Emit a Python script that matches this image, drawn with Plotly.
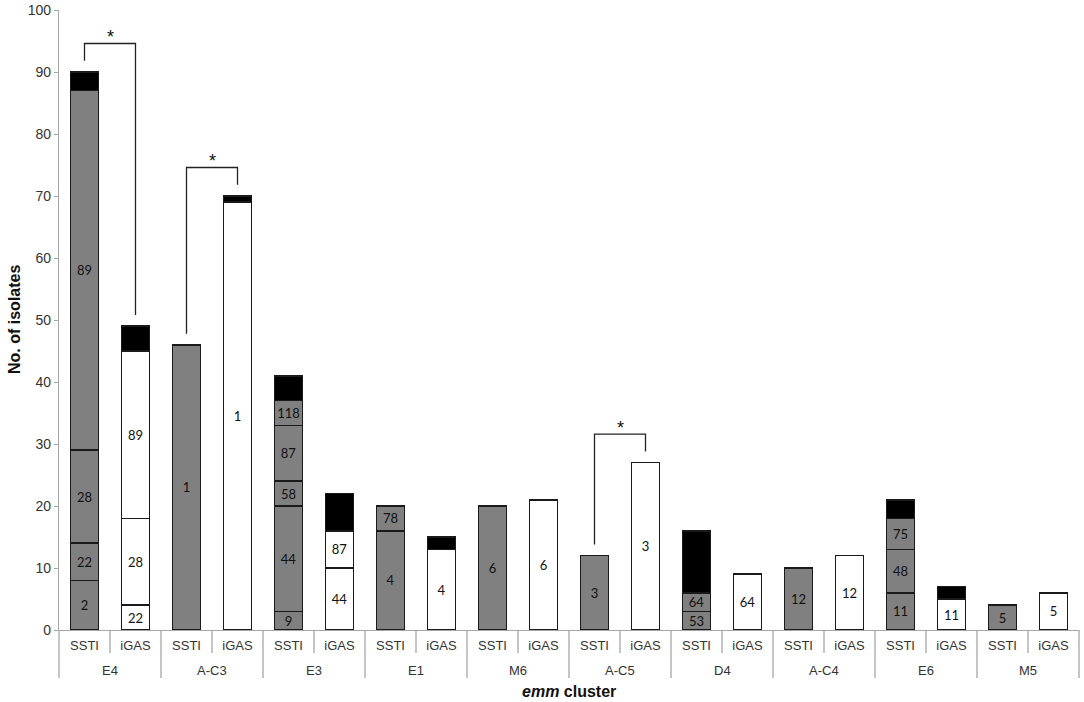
import plotly.graph_objects as go

clusters = ["E4", "A-C3", "E3", "E1", "M6", "A-C5", "D4", "A-C4", "E6", "M5"]
sources = ["SSTI", "iGAS"]

# stacked segments per bar (order: cluster x source), bottom to top
seg1 = [8, 4, 46, 69, 3, 10, 16, 13, 20, 21, 12, 27, 3, 9, 10, 12, 6, 5, 4, 6]
seg1_lbl = ["2", "22", "1", "1", "9", "44", "4", "4", "6", "6", "3", "3", "53", "64", "12", "12", "11", "11", "5", "5"]
seg2 = [6, 14, 0, 0, 17, 6, 4, 0, 0, 0, 0, 0, 3, 0, 0, 0, 7, 0, 0, 0]
seg2_lbl = ["22", "28", "", "", "44", "87", "78", "", "", "", "", "", "64", "", "", "", "48", "", "", ""]
seg3 = [15, 27, 0, 0, 4, 0, 0, 0, 0, 0, 0, 0, 0, 0, 0, 0, 5, 0, 0, 0]
seg3_lbl = ["28", "89", "", "", "58", "", "", "", "", "", "", "", "", "", "", "", "75", "", "", ""]
seg4 = [58, 0, 0, 0, 9, 0, 0, 0, 0, 0, 0, 0, 0, 0, 0, 0, 0, 0, 0, 0]
seg4_lbl = ["89", "", "", "", "87", "", "", "", "", "", "", "", "", "", "", "", "", "", "", ""]
seg5 = [0, 0, 0, 0, 4, 0, 0, 0, 0, 0, 0, 0, 0, 0, 0, 0, 0, 0, 0, 0]
seg5_lbl = ["", "", "", "", "118", "", "", "", "", "", "", "", "", "", "", "", "", "", "", ""]
other = [3, 4, 0, 1, 4, 6, 0, 2, 0, 0, 0, 0, 10, 0, 0, 0, 3, 2, 0, 0]

# significant pairs (cluster names)
sig_clusters = ["E4", "A-C3", "A-C5"]

bar_keys = [f"{c}|{s}" for c in clusters for s in sources]
bar_src = [s for c in clusters for s in sources]
n_bars = len(bar_keys)

GRAY = "#808080"
fill_colors = [GRAY if s == "SSTI" else "#ffffff" for s in bar_src]
LINE = "#1a1a1a"
AXC = "#a6a6a6"

fig = go.Figure()
levels = [(seg1, seg1_lbl), (seg2, seg2_lbl), (seg3, seg3_lbl), (seg4, seg4_lbl), (seg5, seg5_lbl)]
for vals, lbls in levels:
    fig.add_trace(go.Bar(
        x=bar_keys, y=[v if v else None for v in vals],
        text=lbls, textposition="inside", insidetextanchor="middle",
        textangle=0, constraintext="none",
        textfont=dict(family="Lato", size=13, color="#111111"),
        marker=dict(color=fill_colors, line=dict(color=LINE, width=1.6)),
        showlegend=False, hoverinfo="skip",
    ))
fig.add_trace(go.Bar(
    x=bar_keys, y=[v if v else None for v in other],
    marker=dict(color="#000000", line=dict(color=LINE, width=1.6)),
    showlegend=False, hoverinfo="skip",
))

# totals for bracket placement
totals = [sum(t) for t in zip(seg1, seg2, seg3, seg4, seg5, other)]
for c in sig_clusters:
    i = clusters.index(c) * 2
    a, b = totals[i], totals[i + 1]
    top = max(a, b) + 4.6
    fig.add_shape(type="path",
                  path=f"M {i} {a + 1.8} L {i} {top} L {i + 1} {top} L {i + 1} {b + 1.8}",
                  xref="x", yref="y", line=dict(color="#222222", width=1.3))
    fig.add_annotation(x=i + 0.5, y=top, text="*", showarrow=False, yanchor="bottom",
                       xanchor="center", yshift=-6,
                       font=dict(family="Liberation Sans", size=18, color="#111111"))

# category dividers below the axis
for b in range(n_bars + 1):
    long = (b % len(sources) == 0)
    fig.add_shape(type="line", xref="paper", yref="paper", ysizemode="pixel", yanchor=0,
                  x0=b / n_bars, x1=b / n_bars, y0=0, y1=-48 if long else -23,
                  line=dict(color=AXC, width=1.3))

# outer (cluster) labels
for k, c in enumerate(clusters):
    fig.add_annotation(x=(k * 2 + 1) / n_bars, y=0, xref="paper", yref="paper",
                       yshift=-40, yanchor="middle", xanchor="center", text=c, showarrow=False,
                       font=dict(family="Liberation Sans", size=13, color="#333333"))

fig.add_annotation(x=0.5, y=0, xref="paper", yref="paper", yshift=-61, yanchor="middle",
                   xanchor="center", text="<b><i>emm</i> cluster</b>", showarrow=False,
                   font=dict(family="Liberation Sans", size=16, color="#111111"))
fig.add_annotation(x=0, y=0.5, xref="paper", yref="paper", xshift=-45, xanchor="center",
                   yanchor="middle", textangle=-90, text="<b>No. of isolates</b>", showarrow=False,
                   font=dict(family="Liberation Sans", size=16, color="#111111"))

fig.update_layout(
    barmode="stack", bargap=0.45,
    width=1084, height=702,
    margin=dict(l=59, r=5, t=10, b=72),
    plot_bgcolor="white", paper_bgcolor="white",
    font=dict(family="Liberation Sans", color="#333333"),
)
fig.update_xaxes(
    type="category", range=[-0.5, n_bars - 0.5], automargin=False,
    tickvals=bar_keys, ticktext=bar_src, ticklabelstandoff=3,
    showline=True, linecolor=AXC, linewidth=1.3, ticks="",
    tickfont=dict(family="Liberation Sans", size=13, color="#333333"),
    showgrid=False,
)
fig.update_yaxes(
    range=[0, 100], dtick=10, showline=True, linecolor=AXC, linewidth=1.3, automargin=False,
    ticks="outside", ticklen=4, tickcolor=AXC, showgrid=False, zeroline=False,
    tickfont=dict(family="Liberation Sans", size=14, color="#333333"),
)

fig.write_html("out.html", config={"displayModeBar": False},
               post_script="document.body.style.margin='0';")
